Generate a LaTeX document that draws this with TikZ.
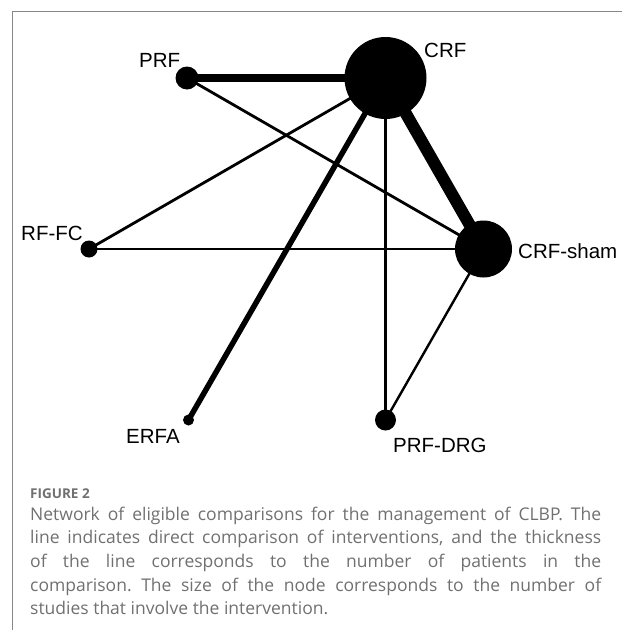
\documentclass[tikz,border=0pt]{standalone}
\usepackage{fontspec}
\setmainfont{Liberation Sans}
\newfontfamily\capfont{Open Sans}
\usetikzlibrary{backgrounds}
\definecolor{capgray}{RGB}{112,112,112}
\definecolor{framegray}{RGB}{135,135,135}
\tikzstyle{netnode}=[circle, fill=black, inner sep=0pt]
\tikzstyle{netlabel}=[inner sep=0pt, anchor=base west, font=\fontsize{20.5}{24}\selectfont]
\tikzstyle{link}=[draw, line width=2.8pt]
\frenchspacing

\begin{document}
\begin{tikzpicture}[x=1pt, y=-1pt]
\useasboundingbox (0,0) rectangle (622,630);
\draw [framegray, line width=1pt] (12.5,630) -- (12.5,11.5) -- (622,11.5);

\node (crf) [netnode, minimum size=82pt] at (385.5,78) {};
\node (prf) [netnode, minimum size=23pt] at (187,78) {};
\node (rffc) [netnode, minimum size=17pt] at (89,249) {};
\node (sham) [netnode, minimum size=57pt] at (483.5,249) {};
\node (erfa) [netnode, minimum size=11pt] at (188.5,420) {};
\node (prfdrg) [netnode, minimum size=21pt] at (385.5,420) {};

\node (crflabel) [netlabel] at (424,57) {CRF};
\node (prflabel) [netlabel] at (139,67) {PRF};
\node (rffclabel) [netlabel] at (21,240) {RF-FC};
\node (shamlabel) [netlabel] at (518,258) {CRF-sham};
\node (erfalabel) [netlabel] at (126,443) {ERFA};
\node (prfdrglabel) [netlabel] at (393,452) {PRF-DRG};

\begin{scope}[on background layer]
\draw [link, line width=8pt] (prf.center) -- (crf.center);
\draw [link, line width=12pt] (crf.center) -- (sham.center);
\draw [link, line width=5.5pt] (crf.center) -- (erfa.center);
\draw [link] (crf.center) -- (rffc.center);
\draw [link] (crf.center) -- (prfdrg.center);
\draw [link] (prf.center) -- (sham.center);
\draw [link] (rffc.center) -- (sham.center);
\draw [link, line width=2.4pt] (sham.center) -- (prfdrg.center);
\end{scope}

\node (figlabel) [inner sep=0pt, anchor=base west, text=capgray, font=\capfont\bfseries\fontsize{13.5}{16}\selectfont] at (30,498) {FIGURE 2};
\node (caption) [inner sep=0pt, anchor=north west, text width=571pt, align=justify, text=capgray, font=\capfont\fontsize{17.5}{23.6}\selectfont] at (30,506.8) {Network of eligible comparisons for the management of CLBP. The\linebreak line indicates direct comparison of interventions, and the thickness\linebreak of the line corresponds to the number of patients in the\linebreak comparison. The size of the node corresponds to the number of\linebreak studies that involve the intervention.};

\end{tikzpicture}
\end{document}
